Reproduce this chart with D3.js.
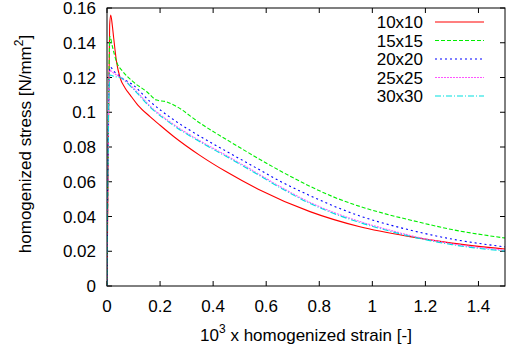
<!DOCTYPE html>
<html>
<head>
<meta charset="utf-8">
<script src="https://cdn.jsdelivr.net/npm/d3@7"></script>
<style>
  body { margin: 0; background: #fff; }
  text { font-family: "Liberation Sans", Arial, sans-serif; font-size: 17px; fill: #000; }
</style>
</head>
<body>
<script>
const width = 508;
const height = 352;

// strain (x 10^3) and homogenized stress [N/mm2]
const strain10 = [0, 0.005, 0.01, 0.014, 0.02, 0.025, 0.036, 0.049, 0.068, 0.087, 0.117, 0.162, 0.2, 0.25, 0.35, 0.45, 0.57, 0.765, 0.953, 1.142, 1.3, 1.5];
const stress10 = [0, 0.08, 0.15, 0.156, 0.15, 0.143, 0.129, 0.12, 0.114, 0.11, 0.104, 0.0975, 0.0925, 0.0862, 0.0752, 0.0657, 0.0557, 0.0428, 0.0341, 0.0284, 0.0247, 0.0213];

const strain15 = [0, 0.005, 0.011, 0.02, 0.036, 0.06, 0.098, 0.15, 0.187, 0.225, 0.26, 0.35, 0.45, 0.55, 0.65, 0.75, 0.85, 0.953, 1.05, 1.142, 1.3, 1.5];
const stress15 = [0, 0.09, 0.1435, 0.138, 0.129, 0.1234, 0.1176, 0.1118, 0.107, 0.106, 0.1035, 0.0938, 0.0843, 0.0752, 0.0665, 0.0585, 0.0515, 0.0458, 0.0415, 0.038, 0.0325, 0.0276];

const strain20 = [0, 0.004, 0.011, 0.03, 0.049, 0.098, 0.162, 0.25, 0.35, 0.45, 0.55, 0.65, 0.765, 0.85, 0.953, 1.05, 1.142, 1.3, 1.5];
const stress20 = [0, 0.08, 0.126, 0.123, 0.1205, 0.1157, 0.1062, 0.0958, 0.0862, 0.0775, 0.069, 0.0605, 0.052, 0.0463, 0.0403, 0.0358, 0.0322, 0.027, 0.0225];

const strain25 = [0, 0.004, 0.009, 0.03, 0.049, 0.098, 0.162, 0.25, 0.35, 0.45, 0.55, 0.65, 0.765, 0.85, 0.953, 1.05, 1.142, 1.3, 1.5];
const stress25 = [0, 0.08, 0.124, 0.122, 0.1203, 0.1141, 0.1036, 0.0931, 0.0836, 0.0751, 0.0664, 0.0574, 0.0481, 0.0426, 0.0371, 0.0328, 0.0291, 0.0243, 0.0206];

const strain30 = [0, 0.004, 0.011, 0.03, 0.049, 0.098, 0.162, 0.25, 0.35, 0.45, 0.55, 0.65, 0.765, 0.85, 0.953, 1.05, 1.142, 1.3, 1.5];
const stress30 = [0, 0.08, 0.1214, 0.1205, 0.12, 0.1135, 0.103, 0.0925, 0.083, 0.0745, 0.0658, 0.0568, 0.0475, 0.042, 0.0365, 0.0322, 0.0286, 0.0238, 0.0201];

const labels = ["10x10", "15x15", "20x20", "25x25", "30x30"];
const colors = ["#ff0000", "#00ee00", "#0000ff", "#ff55ff", "#00e0e0"];
const dashes = [null, "4,2", "2,3", "2,1", "6,2,1,2"];

const xTicks = [0, 0.2, 0.4, 0.6, 0.8, 1, 1.2, 1.4];
const yTicks = [0, 0.02, 0.04, 0.06, 0.08, 0.1, 0.12, 0.14, 0.16];

const series = [
  {x: strain10, y: stress10},
  {x: strain15, y: stress15},
  {x: strain20, y: stress20},
  {x: strain25, y: stress25},
  {x: strain30, y: stress30}
];

const margin = {top: 8, right: 3, bottom: 66, left: 107};

const x = d3.scaleLinear().domain([0, 1.5]).range([margin.left, width - margin.right]);
const y = d3.scaleLinear().domain([0, 0.16]).range([height - margin.bottom, margin.top]);

const svg = d3.select('body').append('svg')
    .attr('width', width)
    .attr('height', height);

const line = d3.line()
    .x(d => x(d[0]))
    .y(d => y(d[1]))
    .curve(d3.curveMonotoneX);

// clip to plot area
svg.append('clipPath').attr('id', 'clip')
  .append('rect')
    .attr('x', x(0)).attr('y', y(0.16))
    .attr('width', x(1.5) - x(0)).attr('height', y(0) - y(0.16));

// ticks on all four sides, pointing inwards
const tickLen = 5;
const axisG = svg.append('g');
xTicks.forEach(t => {
  axisG.append('line').attr('x1', x(t)).attr('x2', x(t))
    .attr('y1', y(0)).attr('y2', y(0) - tickLen).attr('stroke', '#000');
  axisG.append('line').attr('x1', x(t)).attr('x2', x(t))
    .attr('y1', y(0.16)).attr('y2', y(0.16) + tickLen).attr('stroke', '#000');
  axisG.append('text').attr('x', x(t)).attr('y', 312)
    .attr('text-anchor', 'middle').text(t);
});
yTicks.forEach(t => {
  axisG.append('line').attr('x1', x(0)).attr('x2', x(0) + tickLen)
    .attr('y1', y(t)).attr('y2', y(t)).attr('stroke', '#000');
  axisG.append('line').attr('x1', x(1.5)).attr('x2', x(1.5) - tickLen)
    .attr('y1', y(t)).attr('y2', y(t)).attr('stroke', '#000');
  axisG.append('text').attr('x', 96).attr('y', y(t) + 6)
    .attr('text-anchor', 'end').text(t);
});

// curves
const plot = svg.append('g').attr('clip-path', 'url(#clip)');
series.forEach((s, i) => {
  plot.append('path')
    .datum(d3.zip(s.x, s.y))
    .attr('fill', 'none')
    .attr('stroke', colors[i])
    .attr('stroke-width', 1.1)
    .attr('stroke-dasharray', dashes[i])
    .attr('d', line);
});

// frame
svg.append('rect')
  .attr('x', x(0)).attr('y', y(0.16))
  .attr('width', x(1.5) - x(0)).attr('height', y(0) - y(0.16))
  .attr('fill', 'none').attr('stroke', '#000').attr('stroke-width', 1);

// legend
const legend = svg.append('g');
labels.forEach((l, i) => {
  const ly = 22 + i * 18.5;
  legend.append('text').attr('x', 423).attr('y', ly + 6)
    .attr('text-anchor', 'end').text(l);
  legend.append('line').attr('x1', 435).attr('x2', 484)
    .attr('y1', ly).attr('y2', ly)
    .attr('stroke', colors[i]).attr('stroke-width', 1.1)
    .attr('stroke-dasharray', dashes[i]);
});

// axis titles
const xt = svg.append('text')
  .attr('x', (x(0) + x(1.5)) / 2).attr('y', 341)
  .attr('text-anchor', 'middle');
xt.append('tspan').text('10');
xt.append('tspan').attr('dy', -8).attr('font-size', '12px').text('3');
xt.append('tspan').attr('dy', 8).text(' x homogenized strain [-]');

const yt = svg.append('text')
  .attr('transform', `translate(31,${(y(0) + y(0.16)) / 2 - 3}) rotate(-90)`)
  .attr('text-anchor', 'middle');
yt.append('tspan').text('homogenized stress [N/mm');
yt.append('tspan').attr('dy', -8).attr('font-size', '12px').text('2');
yt.append('tspan').attr('dy', 8).text(']');
</script>
</body>
</html>
